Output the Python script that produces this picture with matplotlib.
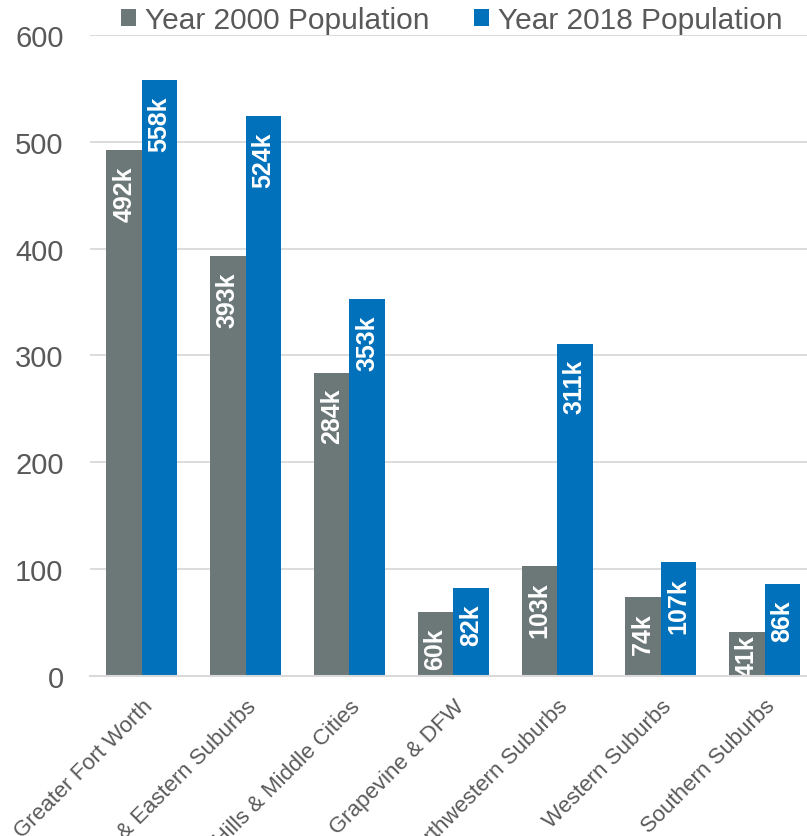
import numpy as np
import matplotlib.pyplot as plt

# data
regions = ["Greater Fort Worth", "Arlington & Eastern Suburbs",
           "North Richland Hills & Middle Cities", "Grapevine & DFW",
           "Northwestern Suburbs", "Western Suburbs", "Southern Suburbs"]
pop_2000 = [492, 393, 284, 60, 103, 74, 41]
pop_2018 = [558, 524, 353, 82, 311, 107, 86]
series_names = ["Year 2000 Population", "Year 2018 Population"]
y_ticks = [0, 100, 200, 300, 400, 500, 600]

GRAY = "#6C7778"
BLUE = "#0071BA"
TEXT = "#595959"
GRID = "#D9D9D9"

plt.rcParams['font.family'] = ['Liberation Sans', 'DejaVu Sans']

fig = plt.figure(figsize=(8.07, 8.37), dpi=100)
ax = fig.add_axes([0.1115, 0.1912, 0.9004, 0.7658])

x = np.arange(len(regions))
w = 0.342
b1 = ax.bar(x - w / 2, pop_2000, w, color=GRAY, label=series_names[0], zorder=3)
b2 = ax.bar(x + w / 2, pop_2018, w, color=BLUE, label=series_names[1], zorder=3)

# value labels inside the bar end, rotated
for bars, vals in [(b1, pop_2000), (b2, pop_2018)]:
    for bar, v in zip(bars, vals):
        cx = bar.get_x() + bar.get_width() / 2
        if v < 50:
            ax.text(cx, 0, f"{v}k", rotation=90, ha='center', va='bottom',
                    color='white', fontsize=18, fontweight='bold', zorder=4)
        else:
            ax.annotate(f"{v}k", (cx, v), xytext=(0, -11), textcoords='offset points',
                        rotation=90, ha='center', va='top', color='white',
                        fontsize=18, fontweight='bold', zorder=4)

ax.set_xlim(-0.5, len(regions) - 0.5)
ax.set_ylim(0, 600)
ax.set_yticks(y_ticks)
ax.tick_params(axis='y', length=0, pad=19, labelsize=21, labelcolor=TEXT)
ax.tick_params(axis='x', length=0, pad=14)
ax.set_xticks(x)
ax.set_xticklabels(regions, rotation=45, ha='right', va='top', rotation_mode='anchor',
                   fontsize=16, color=TEXT)
ax.grid(axis='y', color=GRID, linewidth=1.3, zorder=0)
for s in ['top', 'right', 'left']:
    ax.spines[s].set_visible(False)
ax.spines['bottom'].set_color(GRID)
ax.spines['bottom'].set_linewidth(1.5)
ax.spines['bottom'].set_zorder(5)

leg = fig.legend(loc='center', bbox_to_anchor=(0.56, 0.975), ncol=2, frameon=False,
                 fontsize=21.5, handlelength=0.5, handleheight=0.5, handletextpad=0.3,
                 columnspacing=1.5)
for t in leg.get_texts():
    t.set_color(TEXT)

fig.savefig("out.png", dpi=100)
